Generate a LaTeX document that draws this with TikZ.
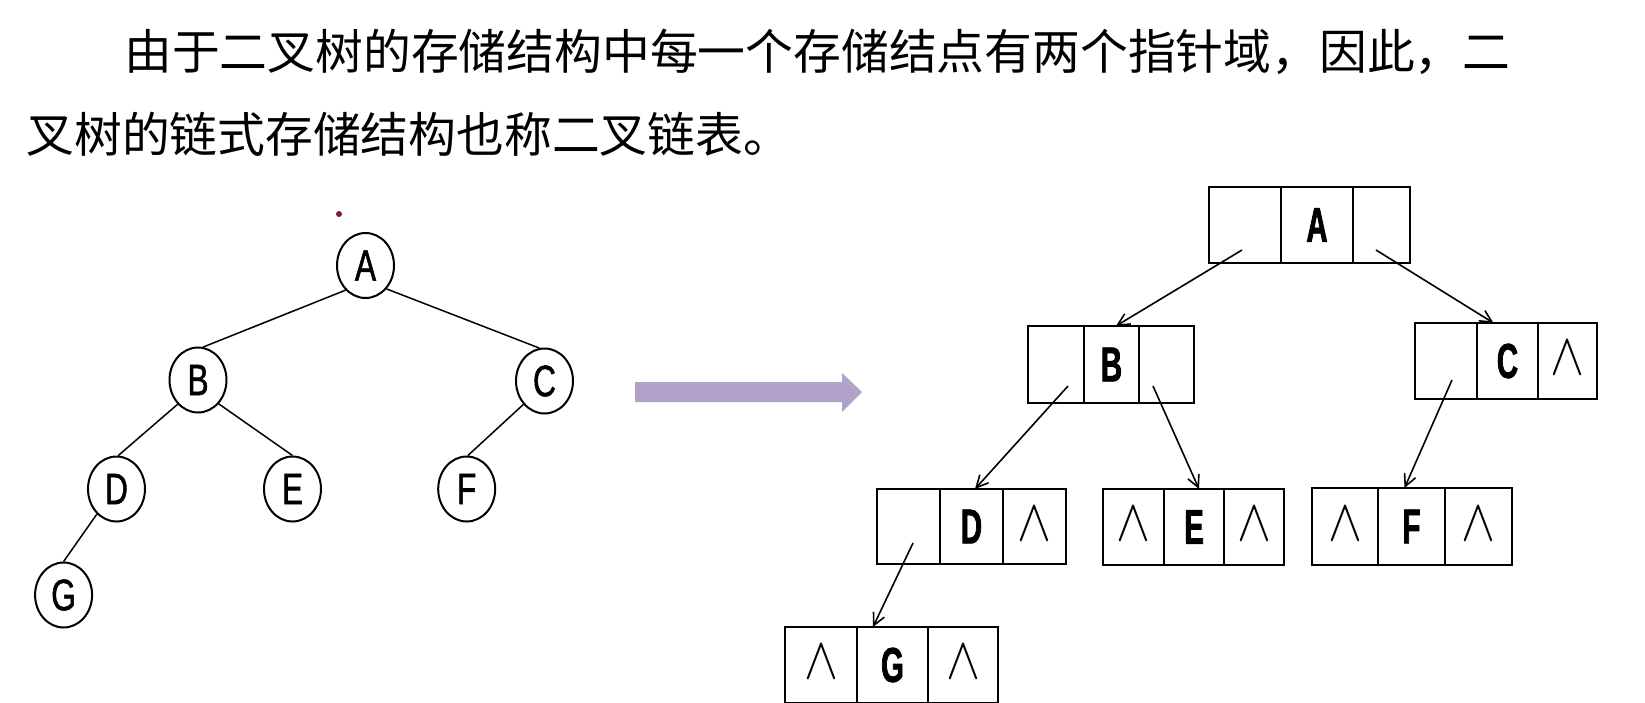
\documentclass[tikz,border=0pt]{standalone}
\usepackage{fontspec}
\newfontfamily\cjk{Noto Sans CJK SC}
\newfontfamily\circfont[FakeStretch=0.72,FakeBold=1.2]{Liberation Sans}
\newfontfamily\boxfont[FakeStretch=0.6,FakeBold=1.5]{Liberation Sans Bold}
\usetikzlibrary{shapes.geometric,arrows.meta,calc}
\definecolor{arrowpurple}{RGB}{176,162,200}
\definecolor{dotred}{RGB}{120,30,50}
\newcommand\nilmark{\raisebox{3pt}{\resizebox{17pt}{16.5pt}{$\wedge$}}}
\newcommand\mkcell[6]{\node[cellst, minimum width={(#3-#2)*0.5pt}, minimum height={(#5-#4)*0.5pt}] (#1) at ({(#2+#3)/2},{(#4+#5)/2}) {#6};}
\tikzset{
  tnode/.style={ellipse, draw, line width=1pt, minimum width=28.5pt, minimum height=32.5pt, inner sep=0pt, font=\circfont\fontsize{22pt}{22pt}\selectfont},
  tedge/.style={line width=0.75pt},
  cellst/.style={draw, line width=1.3pt, inner sep=0pt, outer sep=0pt, font=\boxfont\fontsize{24.5pt}{24.5pt}\selectfont},
  ptr/.style={line width=0.8pt, -{Straight Barb[length=6pt,width=6pt]}},
  cjktext/.style={anchor=base west, inner sep=0pt, font=\cjk\fontsize{23.9pt}{23.9pt}\selectfont}
}
\begin{document}
\begin{tikzpicture}[x=0.5pt,y=-0.5pt]
\useasboundingbox (0,0) rectangle (1645,702);
% heading text
\node[cjktext] (l1) at (124,69) {由于二叉树的存储结构中每一个存储结点有两个指针域，因此，二};
\node[cjktext] (l2) at (26,152) {叉树的链式存储结构也称二叉链表。};
% stray dot
\fill[dotred] (339,214) circle (3);
% tree
\node[tnode] (tA) at (365.5,265.5) {A};
\node[tnode] (tB) at (198,380) {B};
\node[tnode] (tC) at (544.5,381) {C};
\node[tnode] (tD) at (116.5,489) {D};
\node[tnode] (tE) at (292.5,489) {E};
\node[tnode] (tF) at (466.7,489) {F};
\node[tnode] (tG) at (63.6,595) {G};
\draw[tedge] (tA.231) -- (tB.81);
\draw[tedge] (tA.312) -- (tC.99);
\draw[tedge] (tB.230) -- (tD.87);
\draw[tedge] (tB.311) -- (tE.90);
\draw[tedge] (tC.228) -- (tF.88);
\draw[tedge] (tD.232) -- (tG.90);
% big arrow
\fill[arrowpurple] (635,382) -- (842,382) -- (842,373) -- (862,392) -- (842,412) -- (842,402) -- (635,402) -- cycle;
% linked boxes
\mkcell{Al}{1209}{1281}{187}{263}{}
\mkcell{Ad}{1281}{1353}{187}{263}{A}
\mkcell{Ar}{1353}{1410}{187}{263}{}
\mkcell{Bl}{1028}{1084}{326}{403}{}
\mkcell{Bd}{1084}{1139}{326}{403}{B}
\mkcell{Br}{1139}{1194}{326}{403}{}
\mkcell{Cl}{1415}{1477}{323}{399}{}
\mkcell{Cd}{1477}{1538}{323}{399}{C}
\mkcell{Cr}{1538}{1597}{323}{399}{\nilmark}
\mkcell{Dl}{877}{940}{489}{564}{}
\mkcell{Dd}{940}{1003}{489}{564}{D}
\mkcell{Dr}{1003}{1066}{489}{564}{\nilmark}
\mkcell{El}{1103}{1164}{489}{565}{\nilmark}
\mkcell{Ed}{1164}{1224}{489}{565}{E}
\mkcell{Er}{1224}{1284}{489}{565}{\nilmark}
\mkcell{Fl}{1312}{1378}{488}{565}{\nilmark}
\mkcell{Fd}{1378}{1445}{488}{565}{F}
\mkcell{Fr}{1445}{1512}{488}{565}{\nilmark}
\mkcell{Gl}{785}{857}{627}{703}{\nilmark}
\mkcell{Gd}{857}{928}{627}{703}{G}
\mkcell{Gr}{928}{998}{627}{703}{\nilmark}
% pointer start points
\coordinate (sAl) at (1242,250);
\coordinate (sAr) at (1376,250);
\coordinate (sBl) at (1068,386);
\coordinate (sBr) at (1153,386);
\coordinate (sCl) at (1452,380);
\coordinate (sDl) at (913,543);
\draw[ptr] (sAl) -- ($(Bd.north)+(4.5,0)$);
\draw[ptr] (sAr) -- ($(Cd.north)+(-14,0)$);
\draw[ptr] (sBl) -- ($(Dd.north)+(3.5,0)$);
\draw[ptr] (sBr) -- ($(Ed.north)+(5,0)$);
\draw[ptr] (sCl) -- ($(Fd.north)+(-7,0)$);
\draw[ptr] (sDl) -- ($(Gd.north)+(-19.5,0)$);
\end{tikzpicture}
\end{document}
